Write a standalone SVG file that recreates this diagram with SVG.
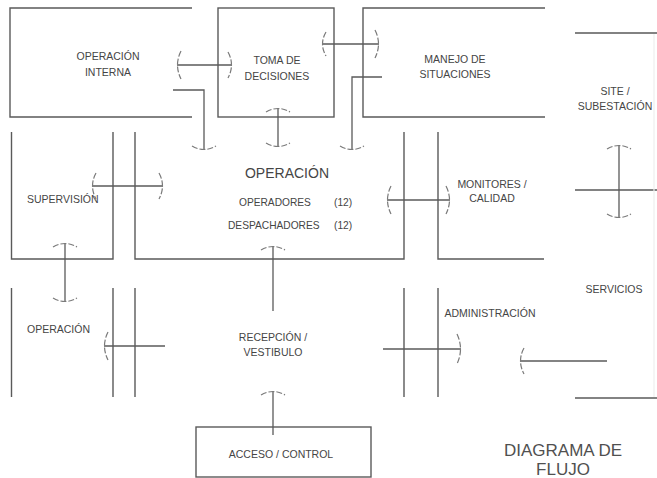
<svg xmlns="http://www.w3.org/2000/svg" width="657" height="478" viewBox="0 0 657 478">
<style>
  .wall{fill:none;stroke:#5a5a5a;stroke-width:1.4}
  .faint{fill:none;stroke:#efefef;stroke-width:1.2}
  .ln{fill:none;stroke:#5a5a5a;stroke-width:1.3}
  .hd{fill:none;stroke:#7a7a7a;stroke-width:1.2;stroke-dasharray:6 2}
  text{font-family:"Liberation Sans",Arial,sans-serif;fill:#454545;font-size:10.5px}
  .c{text-anchor:middle}
  .big{font-size:14px}
  .sm{font-size:10.2px}
  .title{font-size:17px;fill:#505050}
</style>
<rect width="657" height="478" fill="#ffffff"/>

<g id="operacion-interna">
  <path class="wall" d="M192,8 H10 V117 H192"/>
  <text class="c" x="108" y="60">OPERACIÓN</text>
  <text class="c" x="108" y="76">INTERNA</text>
</g>
<g id="toma-de-decisiones">
  <rect class="wall" x="218" y="8" width="116" height="109"/>
  <text class="c" x="277" y="64">TOMA DE</text>
  <text class="c" x="277" y="80">DECISIONES</text>
</g>
<g id="manejo-de-situaciones">
  <path class="wall" d="M545,8 H363 V117 H545"/>
  <text class="c" x="455" y="63">MANEJO DE</text>
  <text class="c" x="455" y="78">SITUACIONES</text>
</g>
<g id="site-subestacion">
  <path class="wall" d="M575,33 H657 M575,190 H657"/>
  <path class="faint" d="M654,34 V397"/>
  <text class="c" x="615" y="95">SITE /</text>
  <text class="c" x="615" y="110">SUBESTACIÓN</text>
</g>
<g id="servicios">
  <path class="wall" d="M575,398 H657"/>
  <text class="c" x="614" y="293">SERVICIOS</text>
</g>
<g id="supervision">
  <path class="wall" d="M11.5,132 V259 H113 V132"/>
  <text x="27" y="203">SUPERVISIÓN</text>
</g>
<g id="operacion">
  <path class="wall" d="M135,132 V259 H404 V132"/>
  <text class="c big" x="287" y="178">OPERACIÓN</text>
  <text class="sm" x="239" y="206">OPERADORES</text>
  <text class="sm" x="334" y="206">(12)</text>
  <text class="sm" x="228" y="229">DESPACHADORES</text>
  <text class="sm" x="334" y="229">(12)</text>
</g>
<g id="monitores-calidad">
  <path class="wall" d="M438,132 V259 H544"/>
  <text class="c" x="492" y="188">MONITORES /</text>
  <text class="c" x="492" y="202">CALIDAD</text>
</g>
<g id="operacion-inferior">
  <path class="wall" d="M11.5,288 V397 M113,288 V397"/>
  <text x="27" y="333">OPERACIÓN</text>
</g>
<g id="recepcion-vestibulo">
  <path class="wall" d="M135,288 V397 M404,288 V397"/>
  <text class="c" x="273" y="341">RECEPCIÓN /</text>
  <text class="c" x="273" y="356">VESTIBULO</text>
</g>
<g id="administracion">
  <path class="wall" d="M438,288 V397"/>
  <text class="c" x="490" y="317">ADMINISTRACIÓN</text>
</g>
<g id="acceso-control">
  <rect class="wall" x="196" y="427" width="175" height="50"/>
  <text class="c" x="281" y="458">ACCESO / CONTROL</text>
</g>
<g id="titulo">
  <text class="c title" x="563" y="456">DIAGRAMA DE</text>
  <text class="c title" x="563" y="475">FLUJO</text>
</g>

<g id="connectors">
  <path class="ln" d="M177,65 H232"/>
  <path class="hd" d="M181,51 Q174,65 181,79"/>
  <path class="hd" d="M228,52 Q235,65 228,78"/>

  <path class="ln" d="M322,44 H379"/>
  <path class="hd" d="M326,32 Q319,44 326,56"/>
  <path class="hd" d="M375,30 Q382,44 375,58"/>

  <path class="ln" d="M173,90 H204 V150"/>
  <path class="hd" d="M192,146 Q204,153 216,146"/>

  <path class="ln" d="M278,108 V147"/>
  <path class="hd" d="M266,112 Q278,105 290,112"/>
  <path class="hd" d="M266,143 Q278,150 290,143"/>

  <path class="ln" d="M382,77 H352 V150"/>
  <path class="hd" d="M340,146 Q352,153 364,146"/>

  <path class="ln" d="M92,186 H163"/>
  <path class="hd" d="M96,173 Q89,186 96,199"/>
  <path class="hd" d="M159,173 Q166,186 159,199"/>

  <path class="ln" d="M387,200 H450"/>
  <path class="hd" d="M391,186 Q384,200 391,214"/>
  <path class="hd" d="M446,186 Q453,200 446,214"/>

  <path class="ln" d="M619,145 V218"/>
  <path class="hd" d="M607,149 Q619,142 631,149"/>
  <path class="hd" d="M607,214 Q619,221 631,214"/>

  <path class="ln" d="M65,243 V302"/>
  <path class="hd" d="M53,247 Q65,240 77,247"/>
  <path class="hd" d="M53,298 Q65,305 77,298"/>

  <path class="ln" d="M273,311 V246"/>
  <path class="hd" d="M261,250 Q273,243 285,250"/>

  <path class="ln" d="M165,346 H104"/>
  <path class="hd" d="M108,332 Q101,346 108,360"/>

  <path class="ln" d="M273,435 V391"/>
  <path class="hd" d="M261,395 Q273,388 285,395"/>

  <path class="ln" d="M383,349 H461"/>
  <path class="hd" d="M457,334 Q464,349 457,364"/>

  <path class="ln" d="M607,361 H520"/>
  <path class="hd" d="M524,348 Q517,361 524,374"/>
</g>
</svg>
